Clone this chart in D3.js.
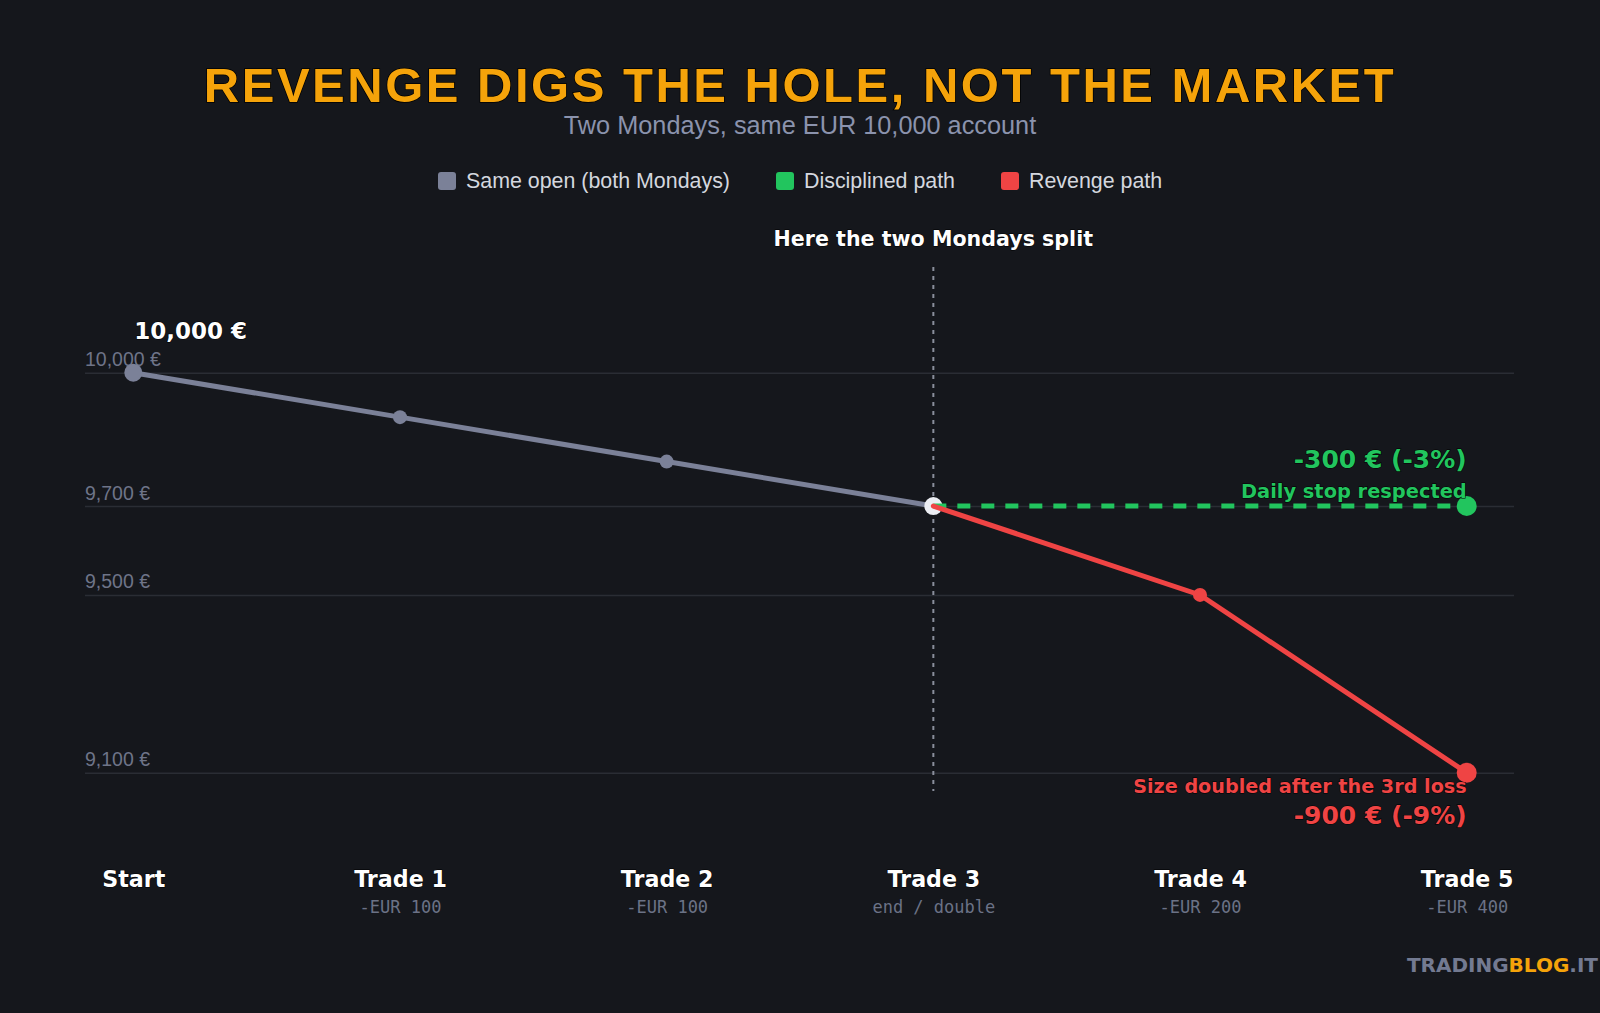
<!DOCTYPE html>
<html lang="en">
<head>
<meta charset="utf-8">
<title>Revenge digs the hole</title>
<script src="https://d3js.org/d3.v7.min.js"></script>
<style>
  html, body { margin: 0; padding: 0; background: #15171c; }
  svg { display: block; font-family: "Liberation Sans", Arial, sans-serif; }
</style>
</head>
<body>
<div id="chart"></div>
<script>
// steps along the x axis
const steps = ["Start", "Trade 1", "Trade 2", "Trade 3", "Trade 4", "Trade 5"];
const stepNotes = ["", "-EUR 100", "-EUR 100", "end / double", "-EUR 200", "-EUR 400"];

// equity values (EUR)
const sameOpen = [
  { step: "Start", value: 10000 },
  { step: "Trade 1", value: 9900 },
  { step: "Trade 2", value: 9800 },
  { step: "Trade 3", value: 9700 }
];
const disciplined = [
  { step: "Trade 3", value: 9700 },
  { step: "Trade 5", value: 9700 }
];
const revenge = [
  { step: "Trade 3", value: 9700 },
  { step: "Trade 4", value: 9500 },
  { step: "Trade 5", value: 9100 }
];
const yTicks = [10000, 9700, 9500, 9100];

const W = 1600, H = 1013;
const C = { bg: "#15171c", gray: "#7b8198", green: "#22c55e", red: "#ef4444", amber: "#f5a30a", grid: "#2a2d34", muted: "#6b7286" };
const HEAVY = "DejaVu Sans, Verdana, sans-serif";

const svg = d3.select("#chart").append("svg")
  .attr("width", W).attr("height", H);

svg.append("rect").attr("width", W).attr("height", H).attr("fill", C.bg);

const x = d3.scalePoint().domain(steps).range([133.3, 1466.7]);
const y = d3.scaleLinear().domain([9100, 10000]).range([772.7, 372.7]);
const gridLeft = 85, gridRight = 1514;

// title + subtitle
svg.append("text")
  .attr("x", W / 2).attr("y", 102)
  .attr("text-anchor", "middle")
  .attr("fill", C.amber)
  .attr("font-size", 49).attr("font-weight", 900)
  .attr("letter-spacing", 2.5)
  .attr("stroke", "#000").attr("stroke-width", 1.5).attr("paint-order", "stroke")
  .text("REVENGE DIGS THE HOLE, NOT THE MARKET");

svg.append("text")
  .attr("x", W / 2).attr("y", 134)
  .attr("text-anchor", "middle")
  .attr("fill", "#8b93ad")
  .attr("font-size", 25.3)
  .text("Two Mondays, same EUR 10,000 account");

// legend
const legendItems = [
  { label: "Same open (both Mondays)", color: C.gray, x: 438 },
  { label: "Disciplined path", color: C.green, x: 776 },
  { label: "Revenge path", color: C.red, x: 1001 }
];
const lg = svg.append("g").selectAll("g").data(legendItems).join("g")
  .attr("transform", d => `translate(${d.x},172)`);
lg.append("rect").attr("width", 18).attr("height", 18).attr("rx", 3).attr("fill", d => d.color);
lg.append("text").attr("x", 28).attr("y", 16)
  .attr("fill", "#d4d7df").attr("font-size", 21.4)
  .text(d => d.label);

// y axis / grid
const yAxis = d3.axisLeft(y)
  .tickValues(yTicks)
  .tickSize(-(gridRight - gridLeft))
  .tickFormat(d => d3.format(",")(d) + " €");

const gy = svg.append("g")
  .attr("transform", `translate(${gridLeft},0)`)
  .call(yAxis);
gy.select(".domain").remove();
gy.selectAll(".tick line").attr("stroke", C.grid).attr("stroke-width", 1.5);
gy.selectAll(".tick text")
  .attr("x", 0).attr("dy", -7)
  .attr("text-anchor", "start")
  .attr("fill", "#6e7488")
  .attr("font-size", 19.5)
  .attr("font-family", "Liberation Sans, Arial, sans-serif");

// x axis labels
const xAxis = d3.axisBottom(x).tickSize(0).tickPadding(0);
const gx = svg.append("g").attr("transform", "translate(0,870)").call(xAxis);
gx.select(".domain").remove();
gx.selectAll(".tick text")
  .attr("dy", 0).attr("y", 17)
  .attr("fill", "#fff")
  .attr("font-size", 22.2).attr("font-weight", 900)
  .attr("font-family", HEAVY)
  .attr("stroke", "#000").attr("stroke-width", 1).attr("paint-order", "stroke");
gx.selectAll(".tick").append("text")
  .attr("y", 43)
  .attr("text-anchor", "middle")
  .attr("fill", C.muted)
  .attr("font-size", 17)
  .attr("font-family", "DejaVu Sans Mono, monospace")
  .text((d, i) => stepNotes[i]);

// split marker
const splitX = x("Trade 3");
svg.append("line")
  .attr("x1", splitX).attr("x2", splitX)
  .attr("y1", 267).attr("y2", 791)
  .attr("stroke", "#8a8f9c").attr("stroke-width", 2)
  .attr("stroke-dasharray", "4,5");
svg.append("text")
  .attr("x", splitX).attr("y", 246)
  .attr("text-anchor", "middle")
  .attr("fill", "#fff").attr("font-size", 20.6).attr("font-weight", 900)
  .attr("font-family", HEAVY)
  .attr("stroke", "#000").attr("stroke-width", 1).attr("paint-order", "stroke")
  .text("Here the two Mondays split");

const line = d3.line().x(d => x(d.step)).y(d => y(d.value));

// shared path
svg.append("path").datum(sameOpen)
  .attr("d", line).attr("fill", "none")
  .attr("stroke", C.gray).attr("stroke-width", 5).attr("stroke-linecap", "round");
svg.append("g").selectAll("circle").data(sameOpen).join("circle")
  .attr("cx", d => x(d.step)).attr("cy", d => y(d.value))
  .attr("r", (d, i) => i === 0 ? 9 : i === 3 ? 9 : 7)
  .attr("fill", (d, i) => i === 3 ? "#eceef3" : C.gray);

// disciplined path
svg.append("path").datum(disciplined)
  .attr("d", line).attr("fill", "none")
  .attr("stroke", C.green).attr("stroke-width", 5)
  .attr("stroke-dasharray", "13,11");

// revenge path
svg.append("path").datum(revenge)
  .attr("d", line).attr("fill", "none")
  .attr("stroke", C.red).attr("stroke-width", 5).attr("stroke-linecap", "round");
svg.append("circle")
  .attr("cx", x(revenge[1].step)).attr("cy", y(revenge[1].value))
  .attr("r", 7).attr("fill", C.red);

// end points
svg.append("circle")
  .attr("cx", x(disciplined[1].step)).attr("cy", y(disciplined[1].value))
  .attr("r", 10).attr("fill", C.green);
svg.append("circle")
  .attr("cx", x(revenge[2].step)).attr("cy", y(revenge[2].value))
  .attr("r", 10).attr("fill", C.red);

// annotations
function label(tx, ty, txt, color, size, anchor) {
  svg.append("text")
    .attr("x", tx).attr("y", ty)
    .attr("text-anchor", anchor || "end")
    .attr("fill", color).attr("font-size", size).attr("font-weight", 900)
    .attr("font-family", HEAVY)
    .attr("stroke", "#000").attr("stroke-width", 1).attr("paint-order", "stroke")
    .text(txt);
}
label(x("Start") + 1, 339, d3.format(",")(sameOpen[0].value) + " €", "#fff", 23, "start");
label(x("Trade 5"), 468, "-300 € (-3%)", C.green, 25);
label(x("Trade 5"), 498, "Daily stop respected", C.green, 19.4);
label(x("Trade 5"), 793, "Size doubled after the 3rd loss", C.red, 19.2);
label(x("Trade 5"), 824, "-900 € (-9%)", C.red, 25);

// watermark
const wm = svg.append("text")
  .attr("x", 1598).attr("y", 972)
  .attr("text-anchor", "end")
  .attr("font-family", HEAVY)
  .attr("font-size", 20).attr("font-weight", 900);
wm.append("tspan").attr("fill", "#737a91").text("TRADING");
wm.append("tspan").attr("fill", C.amber).text("BLOG");
wm.append("tspan").attr("fill", "#737a91").text(".IT");
</script>
</body>
</html>
